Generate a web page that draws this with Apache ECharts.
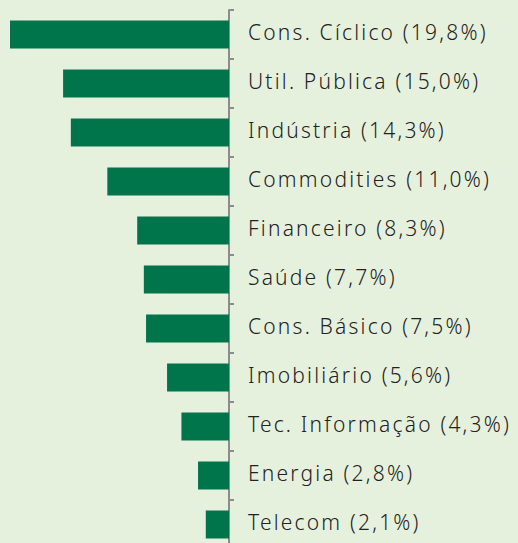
<!DOCTYPE html>
<html>
<head>
<meta charset="utf-8">
<script src="https://cdn.jsdelivr.net/npm/echarts@6/dist/echarts.min.js"></script>
<style>
  html, body { margin: 0; padding: 0; background: #e6f1dd; overflow: hidden; }
  /* canvas is a bit taller than the window so the last row runs off the bottom */
  #chart { width: 518px; height: 549px; }
  #chart text { letter-spacing: 2.2px; }
</style>
</head>
<body>
<div id="chart"></div>
<script>
// Sector weights (%), listed top to bottom
const sectors = ['Cons. Cíclico', 'Util. Pública', 'Indústria', 'Commodities', 'Financeiro',
  'Saúde', 'Cons. Básico', 'Imobiliário', 'Tec. Informação', 'Energia', 'Telecom'];
const weights = [19.8, 15.0, 14.3, 11.0, 8.3, 7.7, 7.5, 5.6, 4.3, 2.8, 2.1];

const fmt = v => v.toFixed(1).replace('.', ',');
const labels = sectors.map((s, i) => s + ' (' + fmt(weights[i]) + '%)');

const chart = echarts.init(document.getElementById('chart'), null, { renderer: 'svg' });
chart.setOption({
  backgroundColor: '#e6f1dd',
  animation: false,
  grid: { left: 10, width: 219, top: 10, bottom: 0, containLabel: false },
  xAxis: {
    type: 'value', inverse: true, min: 0, max: 19.8,
    show: false
  },
  yAxis: {
    type: 'category', inverse: true, position: 'right',
    data: labels,
    axisLine: { show: true, lineStyle: { color: '#8c8c8c', width: 2 } },
    axisTick: { show: true, length: 5, lineStyle: { color: '#8c8c8c', width: 2 } },
    axisLabel: {
      margin: 19,
      formatter: v => '{t|' + v + '}',
      rich: {
        t: {
          color: '#222222', fontSize: 21, fontWeight: 300, fontFamily: 'Noto Sans',
          lineHeight: 24, padding: [0, 0, 6, 0]
        }
      }
    }
  },
  series: [{
    type: 'bar',
    data: weights,
    barWidth: 28,
    itemStyle: { color: '#00744b' }
  }]
});
</script>
</body>
</html>
